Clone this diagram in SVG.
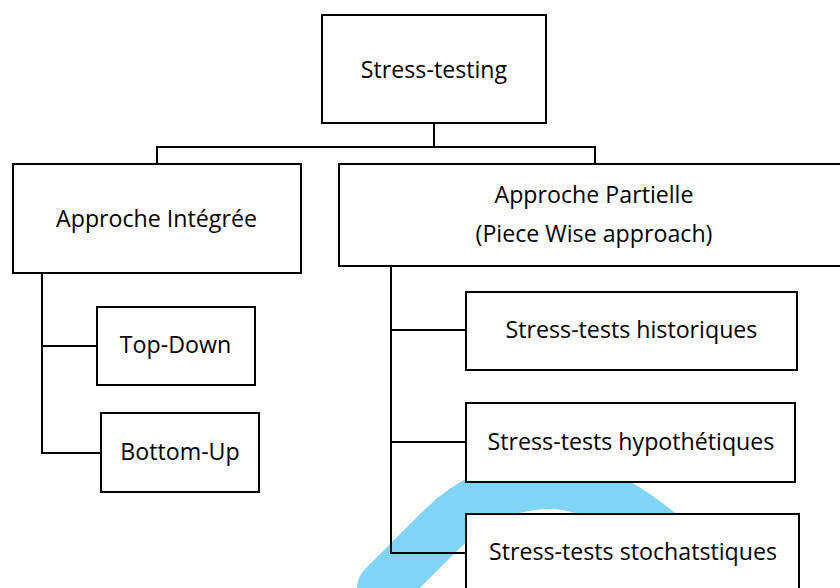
<svg xmlns="http://www.w3.org/2000/svg" width="840" height="588" viewBox="0 0 840 588">
  <style>
    .box { fill: #ffffff; stroke: #000000; stroke-width: 2; }
    .wire { fill: none; stroke: #000000; stroke-width: 2; stroke-linecap: square; }
    .label { font-family: "Open Sans", "Noto Sans", "Liberation Sans", sans-serif; font-size: 23.2px; fill: #000000; text-anchor: middle; }
  </style>
  <rect x="0" y="0" width="840" height="588" fill="#ffffff"/>

  <!-- light blue swoosh behind the lower boxes -->
  <path id="swoosh" d="M 383,588 L 440,531 C 470,500 510,483 550,483 C 598,483 648,520 708,576" fill="none" stroke="#80d4f6" stroke-width="52" stroke-linecap="round"/>

  <g id="connectors">
    <path class="wire" d="M 434,123 V 147 M 157,147 H 595 M 157,147 V 164 M 595,147 V 164"/>
    <path class="wire" d="M 42,273 V 453 M 42,346 H 97 M 42,453 H 101"/>
    <path class="wire" d="M 391,266 V 553 M 391,330 H 466 M 391,442 H 466 M 391,553 H 466"/>
  </g>

  <g id="stress-testing">
    <rect class="box" x="322" y="15" width="224" height="108"/>
    <text class="label" x="434" y="77.5">Stress-testing</text>
  </g>

  <g id="approche-integree">
    <rect class="box" x="13" y="164" width="288" height="109"/>
    <text class="label" x="156.5" y="227">Approche Intégrée</text>
  </g>

  <g id="approche-partielle">
    <rect class="box" x="339" y="164" width="510" height="102"/>
    <text class="label" x="594" y="203">Approche Partielle</text>
    <text class="label" x="594" y="242">(Piece Wise approach)</text>
  </g>

  <g id="top-down">
    <rect class="box" x="97" y="307" width="158" height="78"/>
    <text class="label" x="175.5" y="353">Top-Down</text>
  </g>

  <g id="bottom-up">
    <rect class="box" x="101" y="413" width="158" height="79"/>
    <text class="label" x="180" y="460">Bottom-Up</text>
  </g>

  <g id="historiques">
    <rect class="box" x="466" y="292" width="331" height="78"/>
    <text class="label" x="631.5" y="338">Stress-tests historiques</text>
  </g>

  <g id="hypothetiques">
    <rect class="box" x="466" y="403" width="329" height="79"/>
    <text class="label" x="631" y="450">Stress-tests hypothétiques</text>
  </g>

  <g id="stochastiques">
    <rect class="box" x="466" y="514" width="333" height="90"/>
    <text class="label" x="633" y="560">Stress-tests stochatstiques</text>
  </g>
</svg>
